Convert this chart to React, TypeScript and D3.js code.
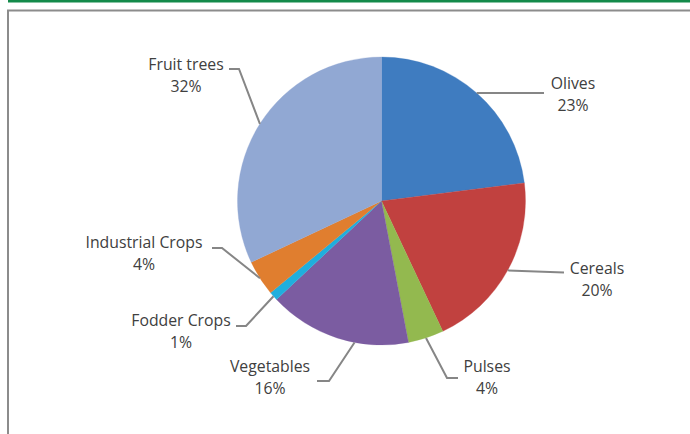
import React from "react";
import * as d3 from "d3";

const categories = ["Olives", "Cereals", "Pulses", "Vegetables", "Fodder Crops", "Industrial Crops", "Fruit trees"];
const values = [23, 20, 4, 16, 1, 4, 32];
const colors = ["#3F7CC0", "#C1413F", "#93B94F", "#7B5CA1", "#1FAFDD", "#E07E2F", "#91A8D3"];

// label layout: text centre, elbow points, anchor angle fraction override
const labelLayout = [
  { tx: 573, ty: 83, pts: [[544, 93]], anchor: null },
  { tx: 597, ty: 268, pts: [[564, 272.5]], anchor: null },
  { tx: 487, ty: 366, pts: [[447, 378], [458, 378]], anchor: null },
  { tx: 270, ty: 366, pts: [[329, 381], [317, 381]], anchor: 0.53 },
  { tx: 181, ty: 320, pts: [[246, 326], [236, 326]], anchor: null },
  { tx: 144, ty: 242, pts: [[222, 248], [212, 248]], anchor: null },
  { tx: 186, ty: 64, pts: [[239, 69], [229, 69]], anchor: null },
];

const W = 690, H = 434;
const cx = 381.5, cy = 201, R = 144;

export default function App() {
  const pie = d3.pie<number>().sort(null).value((d) => d)(values);
  const arc = d3.arc<d3.PieArcDatum<number>>().innerRadius(0).outerRadius(R);
  const total = d3.sum(values);
  return (
    <svg width={W} height={H} style={{ position: "absolute", left: 0, top: 0 }}>
      <rect x={0} y={0} width={W} height={H} fill="#fff" />
      <rect x={8} y={0} width={W - 8} height={2.5} fill="#138A4A" />
      <rect x={8} y={10.5} width={W} height={H} fill="#fff" stroke="#8c8c8c" strokeWidth={2} />
      <g transform={`translate(${cx},${cy})`}>
        {pie.map((p, i) => (
          <path key={i} d={arc(p) || ""} fill={colors[i]} stroke={colors[i]} strokeWidth={0.3} />
        ))}
      </g>
      {pie.map((p, i) => {
        const L = labelLayout[i];
        const a = L.anchor !== null ? L.anchor * 2 * Math.PI : (p.startAngle + p.endAngle) / 2;
        const ax = cx + R * Math.sin(a);
        const ay = cy - R * Math.cos(a);
        const pts = [[ax, ay], ...L.pts];
        const line = d3.line()(pts as [number, number][]) || "";
        const pct = Math.round((values[i] / total) * 100) + "%";
        return (
          <g key={"l" + i}>
            <path d={line} fill="none" stroke="#868686" strokeWidth={2} />
            <text
              x={L.tx}
              y={L.ty}
              textAnchor="middle"
              fontFamily="'Open Sans', 'Liberation Sans', sans-serif"
              fontSize={15.8}
              fill="#404040"
            >
              <tspan x={L.tx} dy="0.35em">{categories[i]}</tspan>
              <tspan x={L.tx} dy="22">{pct}</tspan>
            </text>
          </g>
        );
      })}
    </svg>
  );
}
